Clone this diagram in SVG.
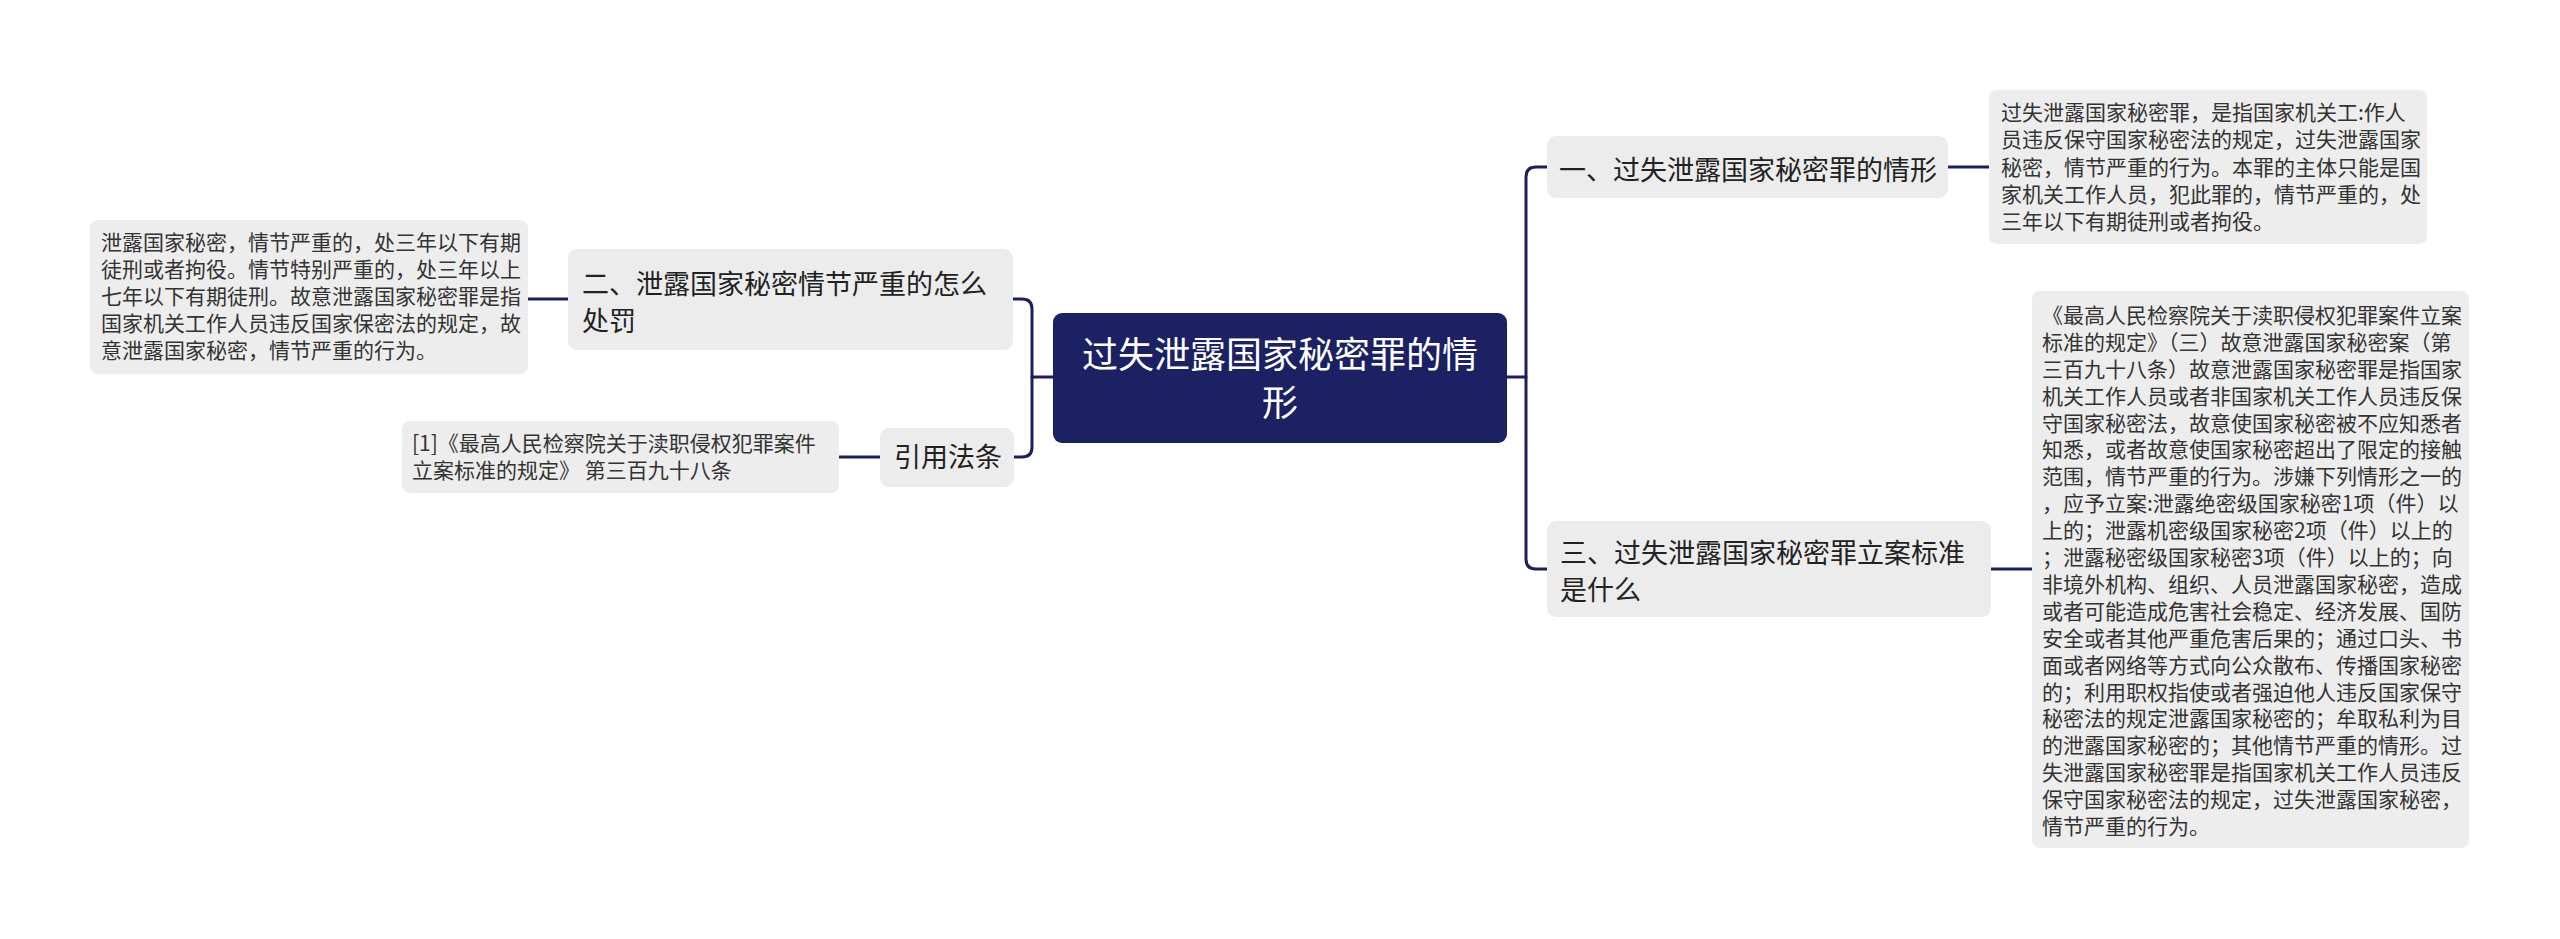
<svg xmlns="http://www.w3.org/2000/svg" width="2560" height="939" viewBox="0 0 2560 939">
<style>
.bg{fill:#ffffff}
.conn{fill:none;stroke:#1b1f5e;stroke-width:3;stroke-linecap:round}
.root{fill:#1b2163}
.node{fill:#ececec}
.leaf{fill:#ededed}
.t{font-family:"Noto Sans CJK SC","Noto Sans",sans-serif}
.rt{font-size:36px;fill:#ffffff}
.nt{font-size:27px;fill:#222222}
.lt{font-size:21px;fill:#333333}
</style>
<rect class="bg" x="0" y="0" width="2560" height="939"/>
<g id="connectors">
<path class="conn" d="M1053 377 H1032"/>
<path class="conn" d="M1013 299 H1022 Q1032 299 1032 309 V447 Q1032 457 1022 457 H1014"/>
<path class="conn" d="M568 299 H528"/>
<path class="conn" d="M880 457 H839"/>
<path class="conn" d="M1507 377 H1526"/>
<path class="conn" d="M1547 167 H1536 Q1526 167 1526 177 V559 Q1526 569 1536 569 H1547"/>
<path class="conn" d="M1948 167 H1989"/>
<path class="conn" d="M1991 569 H2032"/>
</g>
<g id="root">
<rect class="root" x="1053" y="313" width="454" height="130" rx="9"/>
<text class="t rt" text-anchor="middle"><tspan x="1280" y="368">过失泄露国家秘密罪的情</tspan><tspan x="1280" y="416">形</tspan></text>
</g>
<g id="node-2">
<rect class="node" x="568" y="249" width="445" height="101" rx="9"/>
<text class="t nt"><tspan x="582" y="294">二、泄露国家秘密情节严重的怎么</tspan><tspan x="582" y="331">处罚</tspan></text>
</g>
<g id="leaf-2">
<rect class="leaf" x="90" y="220" width="438" height="154" rx="8"/>
<text class="t lt"><tspan x="101" y="250">泄露国家秘密，情节严重的，处三年以下有期</tspan><tspan x="101" y="277">徒刑或者拘役。情节特别严重的，处三年以上</tspan><tspan x="101" y="304">七年以下有期徒刑。故意泄露国家秘密罪是指</tspan><tspan x="101" y="331">国家机关工作人员违反国家保密法的规定，故</tspan><tspan x="101" y="358">意泄露国家秘密，情节严重的行为。</tspan></text>
</g>
<g id="node-cite">
<rect class="node" x="880" y="428" width="134" height="59" rx="9"/>
<text class="t nt"><tspan x="894" y="467">引用法条</tspan></text>
</g>
<g id="leaf-cite">
<rect class="leaf" x="402" y="421" width="437" height="72" rx="8"/>
<text class="t lt"><tspan x="412" y="451">[1]《最高人民检察院关于渎职侵权犯罪案件</tspan><tspan x="412" y="478">立案标准的规定》 第三百九十八条</tspan></text>
</g>
<g id="node-1">
<rect class="node" x="1547" y="136" width="401" height="62" rx="9"/>
<text class="t nt"><tspan x="1559" y="180">一、过失泄露国家秘密罪的情形</tspan></text>
</g>
<g id="leaf-1">
<rect class="leaf" x="1989" y="90" width="438" height="154" rx="8"/>
<text class="t lt"><tspan x="2001" y="120">过失泄露国家秘密罪，是指国家机关工:作人</tspan><tspan x="2001" y="147">员违反保守国家秘密法的规定，过失泄露国家</tspan><tspan x="2001" y="175">秘密，情节严重的行为。本罪的主体只能是国</tspan><tspan x="2001" y="202">家机关工作人员，犯此罪的，情节严重的，处</tspan><tspan x="2001" y="229">三年以下有期徒刑或者拘役。</tspan></text>
</g>
<g id="node-3">
<rect class="node" x="1547" y="521" width="444" height="96" rx="9"/>
<text class="t nt"><tspan x="1560" y="563">三、过失泄露国家秘密罪立案标准</tspan><tspan x="1560" y="600">是什么</tspan></text>
</g>
<g id="leaf-3">
<rect class="leaf" x="2032" y="291" width="437" height="557" rx="8"/>
<text class="t lt"><tspan x="2042" y="323">《最高人民检察院关于渎职侵权犯罪案件立案</tspan><tspan x="2042" y="350">标准的规定》（三）故意泄露国家秘密案（第</tspan><tspan x="2042" y="377">三百九十八条）故意泄露国家秘密罪是指国家</tspan><tspan x="2042" y="404">机关工作人员或者非国家机关工作人员违反保</tspan><tspan x="2042" y="431">守国家秘密法，故意使国家秘密被不应知悉者</tspan><tspan x="2042" y="457">知悉，或者故意使国家秘密超出了限定的接触</tspan><tspan x="2042" y="484">范围，情节严重的行为。涉嫌下列情形之一的</tspan><tspan x="2042" y="511">，应予立案:泄露绝密级国家秘密1项（件）以</tspan><tspan x="2042" y="538">上的；泄露机密级国家秘密2项（件）以上的</tspan><tspan x="2042" y="565">；泄露秘密级国家秘密3项（件）以上的；向</tspan><tspan x="2042" y="592">非境外机构、组织、人员泄露国家秘密，造成</tspan><tspan x="2042" y="619">或者可能造成危害社会稳定、经济发展、国防</tspan><tspan x="2042" y="646">安全或者其他严重危害后果的；通过口头、书</tspan><tspan x="2042" y="673">面或者网络等方式向公众散布、传播国家秘密</tspan><tspan x="2042" y="700">的；利用职权指使或者强迫他人违反国家保守</tspan><tspan x="2042" y="726">秘密法的规定泄露国家秘密的；牟取私利为目</tspan><tspan x="2042" y="753">的泄露国家秘密的；其他情节严重的情形。过</tspan><tspan x="2042" y="780">失泄露国家秘密罪是指国家机关工作人员违反</tspan><tspan x="2042" y="807">保守国家秘密法的规定，过失泄露国家秘密，</tspan><tspan x="2042" y="834">情节严重的行为。</tspan></text>
</g>
</svg>
